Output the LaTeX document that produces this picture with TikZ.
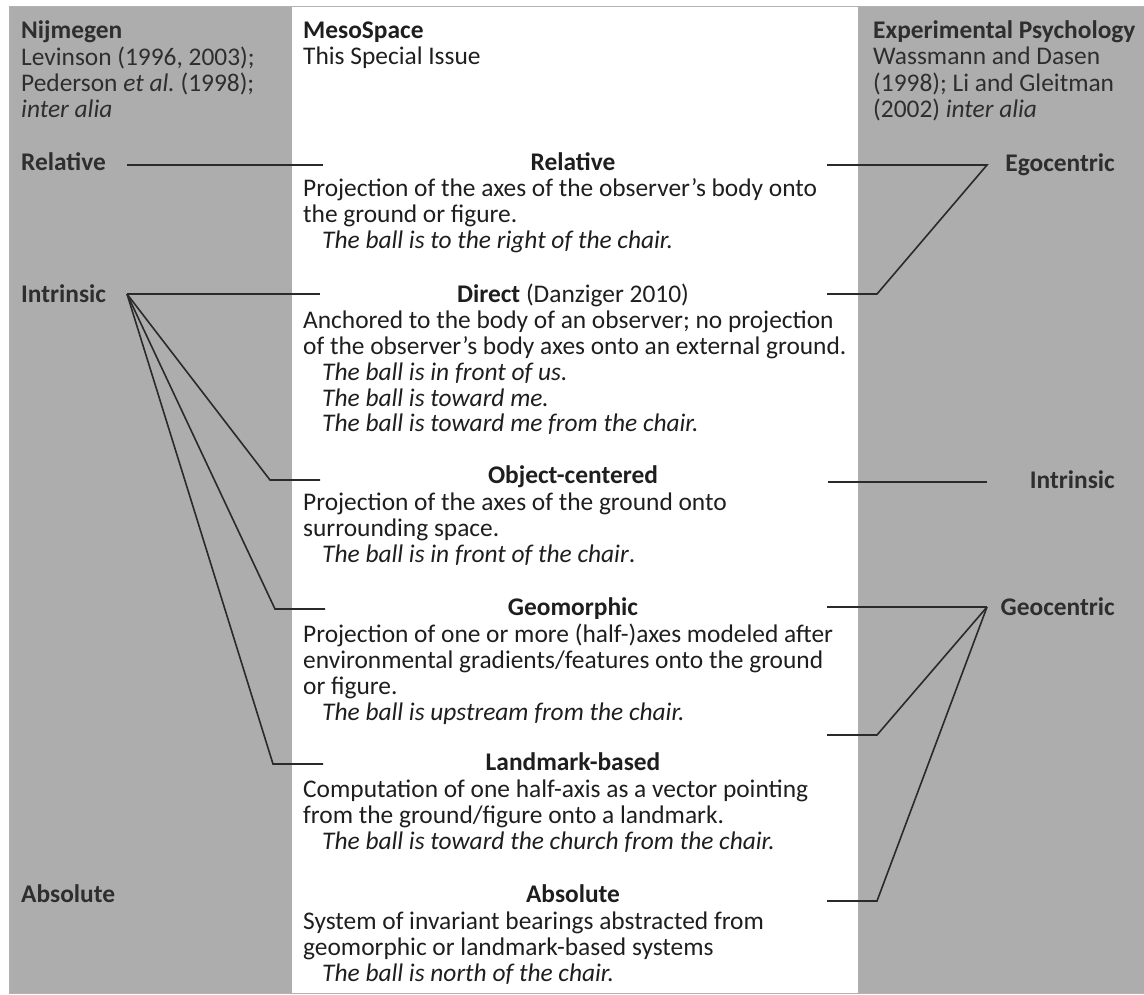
\documentclass[tikz,border=0pt]{standalone}
\usepackage{fontspec}
\setmainfont{Carlito}
\definecolor{panelgray}{HTML}{ADADAD}
\definecolor{ink}{HTML}{1E1E1E}
\definecolor{graytext}{HTML}{2E2E2E}
\definecolor{linegray}{HTML}{2A2A2A}
\tikzset{
  sidetext/.style={anchor=base west, inner sep=0pt, text=graytext, font=\fontsize{25.4}{26}\selectfont},
  sidelabel/.style={inner sep=0pt, text=graytext, font=\fontsize{25.4}{26}\selectfont\bfseries},
  head/.style={anchor=base, inner sep=0pt, text=ink, font=\fontsize{25.4}{26}\selectfont\bfseries},
  body/.style={anchor=base west, inner sep=0pt, text=ink, font=\fontsize{25.4}{26}\selectfont},
  link/.style={draw=linegray, line width=1.6pt, line join=miter}
}
\newcommand{\ex}[1]{\hspace*{19pt}\textit{#1}}
\begin{document}
\begin{tikzpicture}[x=1pt,y=-1pt]
\useasboundingbox (0,0) rectangle (1144,995);
\fill[panelgray] (9,7) rectangle (292,993);
\fill[panelgray] (858,7) rectangle (1144,993);
\draw[gray!60, line width=1pt] (9,7) rectangle (1144,993);

\node[sidetext] (nij) at (21,39) {\begin{tabular}[t]{@{}l@{}}\textbf{Nijmegen}\\Levinson (1996, 2003);\\Pederson \textit{et al.}\ (1998);\\\textit{inter alia}\end{tabular}};
\node[body] (meso) at (303,39) {\begin{tabular}[t]{@{}l@{}}\textbf{MesoSpace}\\This Special Issue\end{tabular}};
\node[sidetext] (exp) at (873,39) {\begin{tabular}[t]{@{}l@{}}\textbf{Experimental Psychology}\\Wassmann and Dasen\\(1998); Li and Gleitman\\(2002) \textit{inter alia}\end{tabular}};

\node[sidelabel, anchor=base west] (relL) at (21,171) {Relative};
\node[sidelabel, anchor=base west] (intL) at (21,302) {Intrinsic};
\node[sidelabel, anchor=base west] (absL) at (21,902) {Absolute};
\node[sidelabel, anchor=base east] (egoR) at (1115,172) {Egocentric};
\node[sidelabel, anchor=base east] (intR) at (1115,488) {Intrinsic};
\node[sidelabel, anchor=base east] (geoR) at (1115,615) {Geocentric};

\node[head] (relH) at (573,171) {Relative};
\node[body] (relB) at (303,197) {\begin{tabular}[t]{@{}l@{}}Projection of the axes of the observer’s body onto\\the ground or figure.\\\ex{The ball is to the right of the chair.}\end{tabular}};
\node[head] (dirH) at (573,302) {Direct \mdseries(Danziger 2010)};
\node[body] (dirB) at (303,328) {\begin{tabular}[t]{@{}l@{}}Anchored to the body of an observer; no projection\\of the observer’s body axes onto an external ground.\\\ex{The ball is in front of us.}\\\ex{The ball is toward me.}\\\ex{The ball is toward me from the chair.}\end{tabular}};
\node[head] (objH) at (573,483) {Object-centered};
\node[body] (objB) at (303,510) {\begin{tabular}[t]{@{}l@{}}Projection of the axes of the ground onto\\surrounding space.\\\ex{The ball is in front of the chair}.\end{tabular}};
\node[head] (geoH) at (573,615) {Geomorphic};
\node[body] (geoB) at (303,642) {\begin{tabular}[t]{@{}l@{}}Projection of one or more (half-)axes modeled after\\environmental gradients/features onto the ground\\or figure.\\\ex{The ball is upstream from the chair.}\end{tabular}};
\node[head] (lmkH) at (573,770) {Landmark-based};
\node[body] (lmkB) at (303,797) {\begin{tabular}[t]{@{}l@{}}Computation of one half-axis as a vector pointing\\from the ground/figure onto a landmark.\\\ex{The ball is toward the church from the chair.}\end{tabular}};
\node[head] (absH) at (573,902) {Absolute};
\node[body] (absB) at (303,929) {\begin{tabular}[t]{@{}l@{}}System of invariant bearings abstracted from\\geomorphic or landmark-based systems\\\ex{The ball is north of the chair.}\end{tabular}};

\coordinate (lrel) at (127,165);
\coordinate (lint) at (127,294);
\coordinate (mrelL) at (323,165);
\coordinate (mdirL) at (320,294);
\coordinate (mobjL) at (320,480);
\coordinate (mgeoL) at (325,609);
\coordinate (mlmkL) at (323,764);
\coordinate (rego) at (987,165);
\coordinate (rint) at (987,482);
\coordinate (rgeo) at (987,607);
\coordinate (mrelR) at (827,165);
\coordinate (mdirR) at (827,294);
\coordinate (mobjR) at (828,482);
\coordinate (mgeoR) at (827,607);
\coordinate (mlmkR) at (827,735);
\coordinate (mabsR) at (827,901);

\draw[link] (lrel) -- (mrelL);
\draw[link] (lint) -- (mdirL);
\draw[link] (lint) -- (270,480) -- (mobjL);
\draw[link] (lint) -- (275,609) -- (mgeoL);
\draw[link] (lint) -- (273,764) -- (mlmkL);
\draw[link] (mrelR) -- (rego) -- (877,294) -- (mdirR);
\draw[link] (mobjR) -- (rint);
\draw[link] (mgeoR) -- (rgeo);
\draw[link] (mlmkR) -- (877,735) -- (rgeo);
\draw[link] (mabsR) -- (877,901) -- (rgeo);
\end{tikzpicture}
\end{document}
